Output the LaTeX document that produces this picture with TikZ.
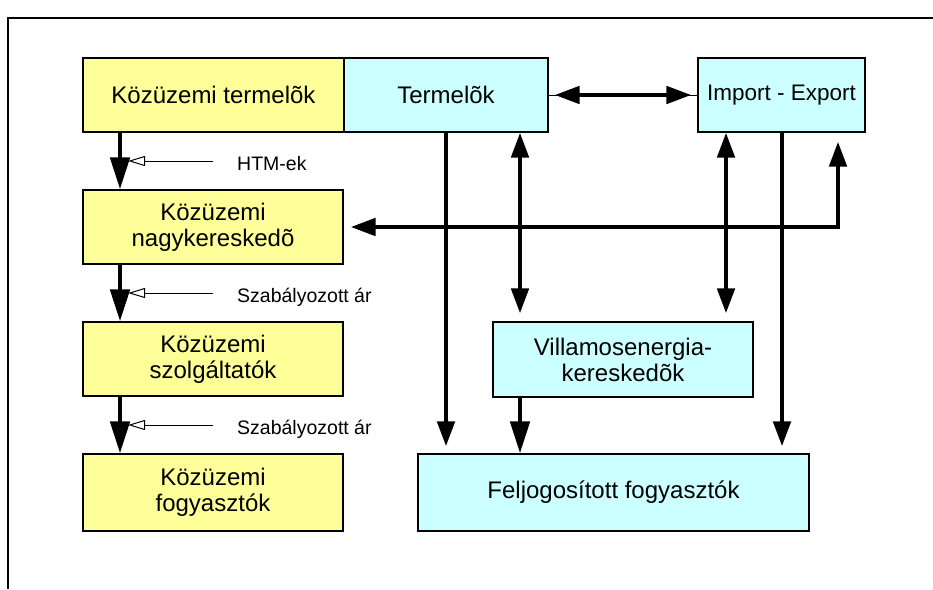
\documentclass[tikz,border=0pt]{standalone}
\usepackage{fontspec}
\setmainfont{Liberation Sans}
\usetikzlibrary{arrows.meta}
\definecolor{boxyellow}{HTML}{FFFF99}
\definecolor{boxcyan}{HTML}{CCFFFF}
\begin{document}
\begin{tikzpicture}[x=1pt,y=-1pt,
  basebox/.style={draw=black, line width=1.1pt, align=center, inner sep=0pt,
    font=\fontsize{24}{26}\selectfont},
  ybox/.style={basebox, fill=boxyellow},
  cbox/.style={basebox, fill=boxcyan},
  flow/.style={line width=4.7pt, -{Triangle[length=32pt,width=19pt]}},
  link/.style={line width=4.7pt},
  tipm/.tip={Triangle[length=25pt,width=17pt]},
  hollow/.style={line width=1pt, -{Triangle[open,length=17pt,width=10pt,line width=1pt]}},
  lab/.style={anchor=base west, inner sep=0pt, font=\fontsize{19.5}{22}\selectfont}]
\useasboundingbox (0,0) rectangle (933,589);
\draw[line width=2pt] (933,18) -- (8,18) -- (8,589);

% boxes
\node[ybox, minimum width=261pt, minimum height=74pt] (kt) at (213.5,95) {Közüzemi termelõk};
\node[cbox, minimum width=204pt, minimum height=74pt] (te) at (446,95) {Termelõk};
\node[cbox, minimum width=167pt, minimum height=74pt, font=\fontsize{22.5}{26}\selectfont] (ie) at (781.5,95) {Import - Export};
\node[ybox, minimum width=260pt, minimum height=74pt] (kn) at (213,227) {Közüzemi\\nagykereskedõ};
\node[ybox, minimum width=260pt, minimum height=74pt] (ksz) at (213,359) {Közüzemi\\szolgáltatók};
\node[ybox, minimum width=260pt, minimum height=77pt] (kf) at (213,492.5) {Közüzemi\\fogyasztók};
\node[cbox, minimum width=260pt, minimum height=75pt] (vk) at (623,359.5) {Villamosenergia-\\kereskedõk};
\node[cbox, minimum width=391pt, minimum height=77pt] (ff) at (613.5,492.5) {Feljogosított fogyasztók};

% column coordinates
\coordinate (c1) at (120,0);
\coordinate (c2) at (446,0);
\coordinate (c3) at (520,0);
\coordinate (c4) at (726,0);
\coordinate (c5) at (782,0);
\coordinate (c6) at (838,0);

% left chain
\draw[flow] (kt.south -| c1) -- (kn.north -| c1);
\draw[flow] (kn.south -| c1) -- (ksz.north -| c1);
\draw[flow] (ksz.south -| c1) -- (kf.north -| c1);

% labels with hollow arrows
\node[lab] (l1) at (237,170) {HTM-ek};
\node[lab] (l2) at (237,302) {Szabályozott ár};
\node[lab] (l3) at (237,434) {Szabályozott ár};
\draw[hollow] ([shift={(-24pt,9pt)}]l1.base west) -- ++(-85,0);
\draw[hollow] ([shift={(-24pt,9pt)}]l2.base west) -- ++(-85,0);
\draw[hollow] ([shift={(-24pt,9pt)}]l3.base west) -- ++(-85,0);

% Termelok <-> Import-Export
\draw[line width=1pt] (te.east) -- (ie.west);
\draw[link, {tipm}-{tipm}, shorten <=6pt, shorten >=6pt] (te.east) -- (ie.west);

% verticals
\draw[link, -{tipm}, shorten >=7pt] (te.south -| c2) -- (ff.north -| c2);
\draw[link, {tipm}-{tipm}, shorten >=8pt] (te.south -| c3) -- (vk.north -| c3);
\draw[link, {tipm}-{tipm}, shorten >=8pt] (ie.south -| c4) -- (vk.north -| c4);
\draw[link, -{tipm}, shorten >=7pt] (ie.south -| c5) -- (ff.north -| c5);
\draw[flow] (vk.south -| c3) -- (ff.north -| c3);

% elbow to nagykereskedo
\draw[link, {tipm}-{tipm}, shorten <=9pt, shorten >=7pt] (ie.south -| c6) |- (kn.east);
\end{tikzpicture}
\end{document}
